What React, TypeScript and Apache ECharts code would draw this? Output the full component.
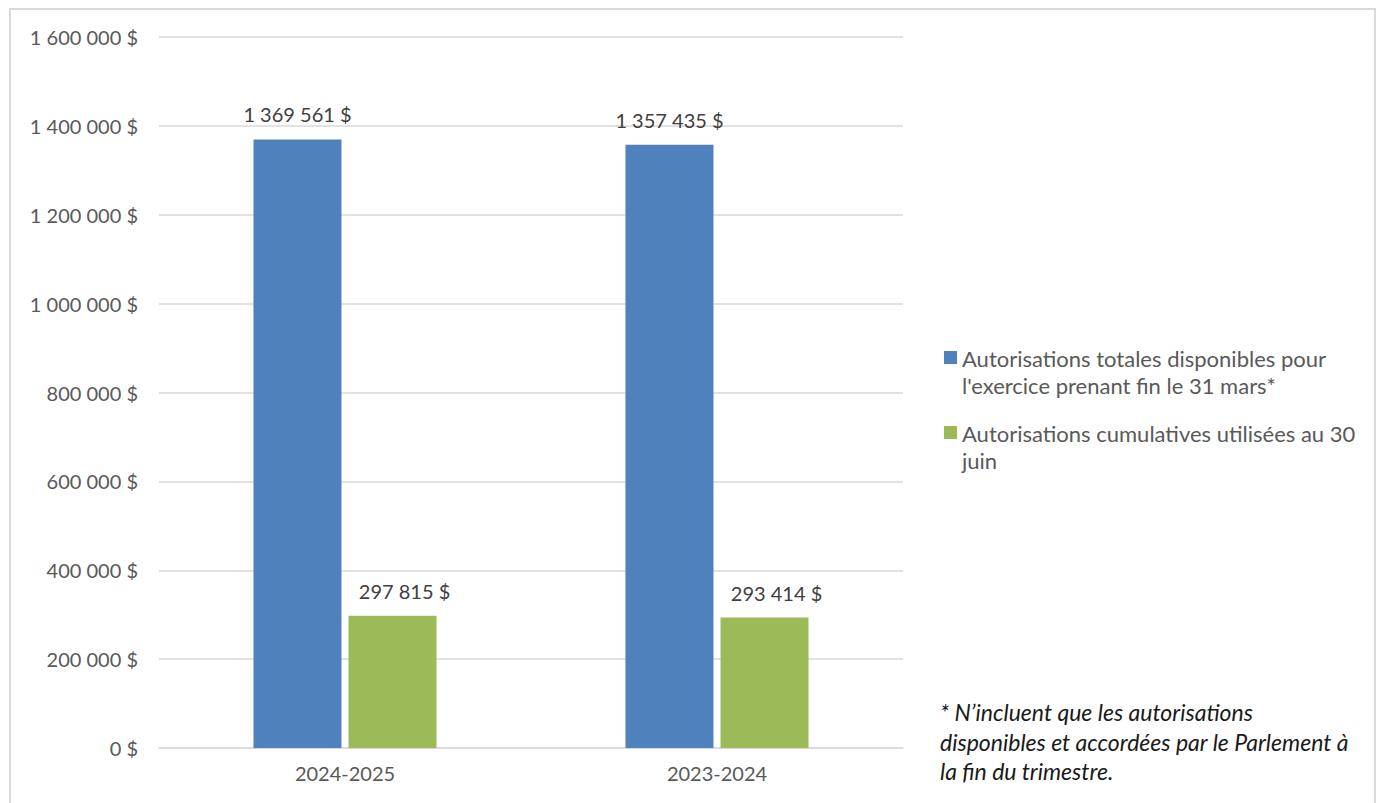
import React, { useEffect, useRef } from "react";
import * as echarts from "echarts";

const categories = ["2024-2025", "2023-2024"];
const seriesNames = [
  "Autorisations totales disponibles pour l'exercice prenant fin le 31 mars*",
  "Autorisations cumulatives utilisées au 30 juin",
];
const legendLines = [
  ["Autorisations totales disponibles pour", "l'exercice prenant fin le 31 mars*"],
  ["Autorisations cumulatives utilisées au 30", "juin"],
];
const totalAuth = [1369561, 1357435];
const usedAuth = [297815, 293414];
const yTicks = { min: 0, max: 1600000, interval: 200000 };
const footnote = [
  "* N\u2019incluent que les autorisations",
  "disponibles et accordées par le Parlement à",
  "la fin du trimestre.",
];
const colors = ["#4f81bd", "#9bbb59"];

const FONT = "Lato, 'Open Sans', sans-serif";

function fmt(n: number): string {
  return String(Math.round(n)).replace(/\B(?=(\d{3})+(?!\d))/g, " ") + " $";
}

export default function App() {
  const ref = useRef<HTMLDivElement>(null);
  useEffect(() => {
    if (!ref.current) return;
    const chart = echarts.init(ref.current, undefined, { renderer: "svg" });
    const legendGraphics: any[] = [];
    legendLines.forEach((lines, i) => {
      const baseY = i === 0 ? 358 : 433;
      legendGraphics.push({
        type: "rect",
        shape: { x: 944, y: baseY - 7, width: 13, height: 13 },
        style: { fill: colors[i] },
      });
      lines.forEach((ln, j) => {
        legendGraphics.push({
          type: "text",
          x: 962,
          y: baseY + j * 27,
          style: {
            text: ln,
            fill: "#595959",
            font: `22px ${FONT}`,
            textVerticalAlign: "middle",
            textAlign: "left",
          },
        });
      });
    });
    const footGraphics = footnote.map((ln, j) => ({
      type: "text",
      x: 940,
      y: 712 + j * 29.5,
      style: {
        text: ln,
        fill: "#1a1a1a",
        font: `italic 23px ${FONT}`,
        textVerticalAlign: "middle",
        textAlign: "left",
      },
    }));
    chart.setOption({
      animation: false,
      backgroundColor: "#ffffff",
      grid: { left: 159, right: 481, top: 37, bottom: 55, containLabel: false },
      xAxis: {
        type: "category",
        data: categories,
        axisLine: { show: true, lineStyle: { color: "#d9d9d9", width: 1.5 } },
        axisTick: { show: false },
        axisLabel: { color: "#595959", fontFamily: FONT, fontSize: 20, margin: 15 },
      },
      yAxis: {
        type: "value",
        min: yTicks.min,
        max: yTicks.max,
        interval: yTicks.interval,
        axisLine: { show: false },
        axisTick: { show: false },
        splitLine: { lineStyle: { color: "#d9d9d9", width: 1.5 } },
        axisLabel: {
          color: "#595959",
          fontFamily: FONT,
          fontSize: 20,
          margin: 21,
          formatter: (v: number) => fmt(v),
        },
      },
      series: [
        {
          name: seriesNames[0],
          type: "bar",
          data: totalAuth,
          barWidth: 88,
          barGap: "8%",
          itemStyle: { color: colors[0] },
          label: {
            show: true,
            position: "top",
            distance: 15,
            color: "#404040",
            fontFamily: FONT,
            fontSize: 20,
            formatter: (p: any) => fmt(p.value),
          },
        },
        {
          name: seriesNames[1],
          type: "bar",
          data: usedAuth,
          barWidth: 88,
          itemStyle: { color: colors[1] },
          label: {
            show: true,
            position: "top",
            distance: 15,
            offset: [12, 0],
            color: "#404040",
            fontFamily: FONT,
            fontSize: 20,
            formatter: (p: any) => fmt(p.value),
          },
        },
      ],
      graphic: [
        {
          type: "rect",
          shape: { x: 10, y: 9, width: 1365, height: 810 },
          style: { fill: "none", stroke: "#d9d9d9", lineWidth: 2 },
          silent: true,
        },
        ...legendGraphics,
        ...footGraphics,
      ],
    });
    return () => chart.dispose();
  }, []);
  return (
    <div
      ref={ref}
      style={{ position: "fixed", left: 0, top: 0, width: 1384, height: 803 }}
    />
  );
}
